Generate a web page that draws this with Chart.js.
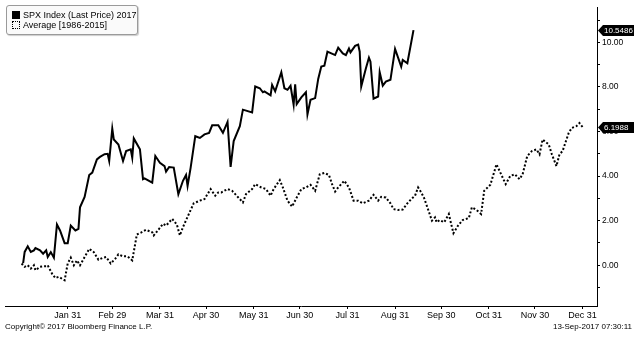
<!DOCTYPE html>
<html>
<head>
<meta charset="utf-8">
<script src="https://cdn.jsdelivr.net/npm/chart.js@4"></script>
<style>
  body { margin: 0; background: #fff; }
  #wrap { position: relative; width: 640px; height: 337px; font-family: "Liberation Sans", Arial, sans-serif; color: #000; }
  #legend {
    position: absolute; left: 6px; top: 5px; width: 130px; height: 28px;
    border: 1px solid #9a9a9a; border-radius: 3px; background: #fafafa;
    box-shadow: 1px 1px 1px #ccc; font-size: 9px;
  }
  .item { position: absolute; left: 5px; white-space: nowrap; line-height: 10px; }
  .sw { display: inline-block; width: 8px; height: 8px; margin-right: 3px; vertical-align: -1px; box-sizing: border-box; }
  .solid { background: #000; }
  .dots { border: 1px dotted #000; }
  .foot { position: absolute; top: 322px; font-size: 8px; white-space: nowrap; }
</style>
</head>
<body>
<div id="wrap">
  <canvas id="chart" width="640" height="337"></canvas>
  <div id="legend">
    <div class="item" style="top:4px"><span class="sw solid"></span>SPX Index (Last Price) 2017</div>
    <div class="item" style="top:14px"><span class="sw dots"></span>Average [1986-2015]</div>
  </div>
  <div class="foot" style="left:5px">Copyright© 2017 Bloomberg Finance L.P.</div>
  <div class="foot" style="right:8px">13-Sep-2017 07:30:11</div>
</div>
<script>
// x values are day of year (0 = Jan 1), leap-year calendar as on the axis
const monthEndDays = [30, 59, 90, 120, 151, 181, 212, 243, 273, 304, 334, 365];
const monthLabels = ["Jan 31", "Feb 29", "Mar 31", "Apr 30", "May 31", "Jun 30",
  "Jul 31", "Aug 31", "Sep 30", "Oct 31", "Nov 30", "Dec 31"];
const yTickValues = [-1, 0, 1, 2, 3, 4, 5, 6, 7, 8, 9, 10, 11];

// SPX Index YTD % change, 2017
const spxDays = [
  1, 2, 4, 6, 8, 9, 12, 14, 16, 17,
  19, 21, 23, 25, 28, 30, 32, 35, 37, 38,
  41, 44, 46, 49, 51, 54, 56, 57, 59, 60,
  63, 66, 68, 71, 72, 73, 77, 79, 80, 85,
  87, 90, 93, 94, 96, 99, 102, 105, 107, 108,
  110, 113, 116, 119, 122, 124, 128, 131, 134, 136,
  138, 142, 144, 150, 152, 155, 157, 158, 162, 163,
  165, 169, 171, 173, 175, 177, 178, 179, 182, 185,
  186, 188, 191, 193, 195, 197, 199, 203, 204, 206,
  209, 211, 213, 214, 217, 219, 220, 221, 224, 226,
  227, 229, 232, 233, 235, 237, 240, 243, 247, 248,
  251, 255
];
const spxValues = [
  0.10, 0.60, 0.85, 0.60, 0.67, 0.77, 0.67, 0.52, 0.67, 0.37,
  0.59, 0.34, 1.83, 1.56, 0.99, 0.99, 1.78, 1.56, 1.63, 2.60,
  3.07, 4.05, 4.16, 4.75, 4.86, 4.98, 5.00, 4.68, 6.13, 5.64,
  5.42, 4.68, 5.12, 5.20, 4.82, 5.69, 5.20, 3.86, 3.90, 3.71,
  4.90, 4.60, 4.45, 4.20, 4.41, 4.38, 3.19, 3.79, 4.05, 3.56,
  4.38, 5.79, 5.71, 5.87, 5.94, 6.28, 6.28, 5.94, 6.43, 4.41,
  5.57, 6.24, 6.98, 6.86, 8.02, 7.94, 7.76, 7.80, 7.62, 8.09,
  7.80, 8.66, 7.94, 7.87, 8.05, 7.20, 8.12, 7.23, 7.53, 7.76,
  6.76, 7.42, 7.50, 8.36, 8.91, 8.95, 9.58, 9.46, 9.43, 9.76,
  9.50, 9.43, 9.72, 9.55, 9.84, 9.90, 9.58, 8.02, 8.83, 9.31,
  9.13, 7.47, 7.57, 8.66, 8.06, 8.24, 8.32, 9.70, 8.91, 9.21,
  9.06, 10.5486
];

// Average path 1986-2015
const avgDays = [
  0, 2, 4, 6, 8, 9, 12, 14, 16, 17,
  20, 22, 24, 25, 27, 28, 30, 32, 34, 36,
  38, 41, 44, 47, 50, 53, 55, 58, 61, 63,
  66, 69, 72, 75, 78, 81, 85, 86, 90, 92,
  94, 98, 101, 103, 105, 110, 112, 116, 119, 123,
  126, 128, 130, 134, 137, 139, 141, 144, 146, 150,
  152, 156, 159, 162, 164, 168, 170, 173, 176, 179,
  182, 185, 188, 191, 194, 197, 200, 202, 204, 206,
  210, 213, 216, 219, 222, 226, 229, 232, 234, 237,
  240, 242, 245, 248, 251, 254, 256, 258, 260, 262,
  267, 269, 270, 272, 275, 278, 279, 281, 284, 287,
  291, 293, 296, 299, 301, 305, 309, 311, 315, 318,
  321, 324, 326, 329, 332, 335, 337, 339, 343, 345,
  348, 350, 352, 356, 358, 361, 363, 365
];
const avgValues = [
  0.08, -0.07, 0.00, -0.15, 0.00, -0.22, -0.07, -0.05, -0.04, 0.00,
  -0.40, -0.57, -0.52, -0.55, -0.64, -0.67, 0.08, 0.34, 0.00, 0.22,
  0.00, 0.37, 0.74, 0.59, 0.25, 0.34, 0.37, 0.08, 0.30, 0.49,
  0.40, 0.40, 0.22, 1.38, 1.48, 1.59, 1.48, 1.34, 1.68, 1.86,
  1.78, 2.08, 1.83, 1.34, 1.71, 2.48, 2.78, 2.90, 2.97, 3.42,
  3.12, 3.27, 3.27, 3.42, 3.34, 3.19, 3.04, 2.82, 3.19, 3.42,
  3.64, 3.49, 3.42, 3.12, 3.42, 3.82, 3.49, 2.90, 2.63, 3.04,
  3.42, 3.49, 3.61, 3.34, 4.08, 4.14, 4.05, 3.64, 3.31, 3.49,
  3.79, 3.49, 2.90, 2.90, 2.78, 2.90, 3.16, 2.90, 3.07, 3.04,
  2.78, 2.52, 2.48, 2.50, 2.78, 3.00, 3.12, 3.49, 3.27, 3.00,
  2.00, 2.15, 1.93, 2.03, 1.93, 2.30, 2.00, 1.44, 1.78, 2.03,
  2.12, 2.60, 2.48, 2.30, 3.34, 3.61, 4.53, 4.23, 3.64, 4.01,
  4.08, 3.86, 4.08, 4.90, 5.12, 5.20, 4.98, 5.64, 5.42, 4.98,
  4.45, 4.98, 5.12, 5.94, 6.16, 6.24, 6.38, 6.1988
];

const FONT = "'Liberation Sans', Arial, sans-serif";

function toPoints(days, vals) {
  return days.map((d, i) => ({ x: d, y: vals[i] }));
}

// black last-value tags on the right axis
const valueTags = {
  id: "valueTags",
  afterDraw(chart) {
    const ctx = chart.ctx;
    const x = chart.chartArea.right + 1;
    chart.data.datasets.forEach(ds => {
      const last = ds.data[ds.data.length - 1].y;
      const y = Math.round(chart.scales.y.getPixelForValue(last)) + 0.5;
      ctx.save();
      ctx.fillStyle = "#000";
      ctx.beginPath();
      ctx.moveTo(x, y);
      ctx.lineTo(x + 5, y - 5.5);
      ctx.lineTo(x + 36, y - 5.5);
      ctx.lineTo(x + 36, y + 5.5);
      ctx.lineTo(x + 5, y + 5.5);
      ctx.closePath();
      ctx.fill();
      ctx.fillStyle = "#fff";
      ctx.font = "8px " + FONT;
      ctx.textAlign = "left";
      ctx.textBaseline = "middle";
      ctx.fillText(last.toFixed(4), x + 6, y + 0.5);
      ctx.restore();
    });
  }
};

new Chart(document.getElementById("chart"), {
  type: "line",
  data: {
    datasets: [{
      label: "SPX Index (Last Price) 2017",
      data: toPoints(spxDays, spxValues),
      borderColor: "#000",
      borderWidth: 2,
      pointRadius: 0,
      tension: 0
    }, {
      label: "Average [1986-2015]",
      data: toPoints(avgDays, avgValues),
      borderColor: "#000",
      borderWidth: 2,
      borderDash: [2, 2],
      pointRadius: 0,
      tension: 0
    }]
  },
  options: {
    responsive: false,
    animation: false,
    devicePixelRatio: 1,
    layout: { padding: { left: 5, top: 5, right: 0, bottom: 0 } },
    plugins: { legend: { display: false }, tooltip: { enabled: false } },
    scales: {
      x: {
        type: "linear",
        min: -10.8,
        max: 374.4,
        afterBuildTicks: axis => { axis.ticks = monthEndDays.map(v => ({ value: v })); },
        afterFit: axis => { axis.height = 31; },
        grid: { drawOnChartArea: false, tickLength: 3, color: "#000" },
        border: { color: "#000", width: 1 },
        ticks: {
          autoSkip: false, maxRotation: 0, padding: 1, color: "#000",
          font: { family: FONT, size: 9 },
          callback: v => monthLabels[monthEndDays.indexOf(v)]
        }
      },
      y: {
        position: "right",
        min: -1.826,
        max: 11.58,
        afterBuildTicks: axis => { axis.ticks = yTickValues.map(v => ({ value: v })); },
        afterFit: axis => { axis.width = 43; },
        grid: { drawOnChartArea: false, tickLength: 3, color: "#000" },
        border: { color: "#000", width: 1 },
        ticks: {
          padding: 2, color: "#000",
          font: { family: FONT, size: 8.5 },
          callback: v => (v % 2 === 0 ? v.toFixed(2) : "")
        }
      }
    }
  },
  plugins: [valueTags]
});
</script>
</body>
</html>
